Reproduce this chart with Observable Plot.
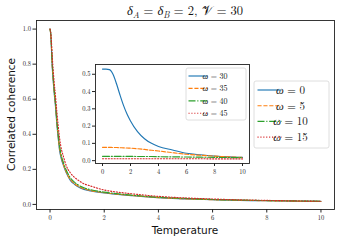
<!DOCTYPE html>
<html><head><meta charset="utf-8">
<script src="https://cdn.jsdelivr.net/npm/d3@7"></script>
<script src="https://cdn.jsdelivr.net/npm/@observablehq/plot@0.6"></script>
<style>
body{margin:0;background:#fff;}
#chart{position:relative;width:340px;height:243px;}
</style></head><body><div id="chart"></div>
<script>
// ---- main panel data ----
const temperature = [0, 0.025, 0.05, 0.075, 0.1, 0.15, 0.2, 0.25, 0.3, 0.35, 0.4, 0.5, 0.6, 0.75, 0.9, 1.05, 1.25, 1.5, 2, 2.5, 3, 4, 5, 6, 7, 8, 9, 10];
const omega0  = [1.0, 0.97, 0.9, 0.8, 0.74, 0.64, 0.56, 0.46, 0.38, 0.31, 0.27, 0.22, 0.18, 0.137, 0.115, 0.099, 0.086, 0.077, 0.065, 0.057, 0.050, 0.038, 0.032, 0.027, 0.023, 0.021, 0.019, 0.017];
const omega5  = [1.0, 0.97, 0.905, 0.81, 0.75, 0.65, 0.57, 0.47, 0.39, 0.32, 0.28, 0.225, 0.185, 0.142, 0.119, 0.103, 0.089, 0.079, 0.067, 0.058, 0.051, 0.039, 0.032, 0.027, 0.024, 0.021, 0.019, 0.017];
const omega10 = [1.0, 0.975, 0.91, 0.82, 0.76, 0.66, 0.58, 0.48, 0.40, 0.335, 0.29, 0.235, 0.195, 0.152, 0.127, 0.11, 0.095, 0.084, 0.07, 0.061, 0.053, 0.041, 0.034, 0.028, 0.025, 0.022, 0.02, 0.018];
const omega15 = [1.0, 0.98, 0.93, 0.86, 0.8, 0.7, 0.62, 0.53, 0.45, 0.38, 0.33, 0.27, 0.22, 0.18, 0.155, 0.137, 0.118, 0.105, 0.082, 0.07, 0.061, 0.046, 0.037, 0.031, 0.026, 0.023, 0.02, 0.018];
const mainOmegas = ["0", "5", "10", "15"];

// ---- inset data ----
const insetTemperature = [0, 0.25, 0.5, 0.75, 1, 1.25, 1.5, 1.75, 2, 2.5, 3, 3.5, 4, 5, 6, 7, 8, 9, 10];
const omega30 = [0.53, 0.53, 0.527, 0.5, 0.445, 0.38, 0.32, 0.27, 0.23, 0.168, 0.127, 0.1, 0.082, 0.062, 0.043, 0.034, 0.027, 0.022, 0.019];
const omega35 = [0.077, 0.077, 0.077, 0.076, 0.076, 0.075, 0.074, 0.073, 0.072, 0.069, 0.065, 0.06, 0.056, 0.046, 0.037, 0.031, 0.026, 0.022, 0.019];
const omega40 = [0.025, 0.025, 0.025, 0.025, 0.025, 0.025, 0.025, 0.025, 0.025, 0.024, 0.024, 0.024, 0.023, 0.022, 0.021, 0.02, 0.019, 0.018, 0.017];
const omega45 = [0.011, 0.011, 0.011, 0.011, 0.011, 0.011, 0.011, 0.011, 0.011, 0.011, 0.011, 0.011, 0.011, 0.011, 0.011, 0.011, 0.010, 0.010, 0.010];
const insetOmegas = ["30", "35", "40", "45"];

// ---- ticks / labels ----
const xTicks = [0, 2, 4, 6, 8, 10];
const yTicksMain = [0, 0.2, 0.4, 0.6, 0.8, 1.0];
const yTicksInset = [0, 0.1, 0.2, 0.3, 0.4, 0.5];
const xLabel = "Temperature";
const yLabel = "Correlated coherence";

// ---- styles ----
const colors = ["#1f77b4", "#ff7f0e", "#2ca02c", "#d62728"];
const dashes = [null, "4.1,1.8", "7,1.8,1.1,1.8", "1.1,1.8"];
const serif = "'Latin Modern Roman','Liberation Serif','DejaVu Serif',serif";
const tickFont = 6.5;

function toRows(ts, series) {
  return series.map((vals, i) => ts.map((t, j) => ({T: t, v: vals[j], s: i})));
}
const mainRows = toRows(temperature, [omega0, omega5, omega10, omega15]);
const insetRows = toRows(insetTemperature, [omega30, omega35, omega40, omega45]);

function lineMarks(rows) {
  return rows.map((r, i) => Plot.line(r, {x: "T", y: "v", stroke: colors[i], strokeWidth: 1.15,
    strokeDasharray: dashes[i] || undefined, curve: "monotone-x"}));
}

const main = Plot.plot({
  width: 340, height: 243,
  marginLeft: 36, marginRight: 6, marginTop: 20, marginBottom: 34,
  style: {fontFamily: serif, fontSize: tickFont + "px", background: "transparent", color: "#222"},
  x: {domain: [-0.5, 10.5]},
  y: {domain: [-0.029, 1.049]},
  marks: [
    ...lineMarks(mainRows),
    Plot.frame({stroke: "#222", strokeWidth: 0.9}),
    Plot.axisX({ticks: xTicks, tickFormat: d => d.toFixed(0), tickSize: 3.5, tickPadding: 2.5, label: null, fontSize: tickFont}),
    Plot.axisY({ticks: yTicksMain, tickFormat: d => d.toFixed(1), tickSize: 3.5, tickPadding: 2, label: null, fontSize: tickFont})
  ]
});

const inset = Plot.plot({
  width: 178, height: 115,
  marginLeft: 22, marginRight: 2, marginTop: 2, marginBottom: 14,
  style: {fontFamily: serif, fontSize: tickFont + "px", background: "transparent", color: "#222", overflow: "visible"},
  x: {domain: [-0.5, 10.5]},
  y: {domain: [-0.0165, 0.5565]},
  marks: [
    Plot.frame({fill: "white"}),
    ...lineMarks(insetRows),
    Plot.frame({stroke: "#222", strokeWidth: 0.9}),
    Plot.axisX({ticks: xTicks, tickFormat: d => d.toFixed(0), tickSize: 3, tickPadding: 2.5, label: null, fontSize: tickFont}),
    Plot.axisY({ticks: yTicksInset, tickFormat: d => d.toFixed(1), tickSize: 3, tickPadding: 2, label: null, fontSize: tickFont})
  ]
});

document.getElementById("chart").appendChild(main);
const svg = d3.select(main);
inset.style.height = "115px";
inset.style.width = "178px";
inset.style.maxWidth = "none";
d3.select(inset).attr("x", 73).attr("y", 62).attr("width", 178).attr("height", 115);
main.appendChild(inset);

// title
const title = svg.append("text").attr("x", 185).attr("y", 15).attr("text-anchor", "middle")
  .attr("font-family", serif).attr("font-size", 12.5).attr("fill", "#111");
title.append("tspan").attr("font-style", "italic").text("δ");
title.append("tspan").attr("font-style", "italic").attr("font-size", 9).attr("dy", 2.5).text("A");
title.append("tspan").attr("dy", -2.5).text(" = ");
title.append("tspan").attr("font-style", "italic").text("δ");
title.append("tspan").attr("font-style", "italic").attr("font-size", 9).attr("dy", 2.5).text("B");
title.append("tspan").attr("dy", -2.5).text(" = 2, ");
title.append("tspan").text("𝒱");
title.append("tspan").text(" = 30");

// axis labels
svg.append("text").attr("x", 185).attr("y", 234).attr("text-anchor", "middle")
  .attr("font-family", "'DejaVu Sans',sans-serif").attr("font-size", 10.5).attr("fill", "#111").text(xLabel);
svg.append("text").attr("transform", "translate(15,114.5) rotate(-90)").attr("text-anchor", "middle")
  .attr("font-family", "'DejaVu Sans',sans-serif").attr("font-size", 10.5).attr("fill", "#111").text(yLabel);

// legends
function legend(x, y, w, h, rowY0, rowStep, lineX0, lineX1, textX, fontSize, omegas) {
  svg.append("rect").attr("x", x).attr("y", y).attr("width", w).attr("height", h).attr("rx", 2)
    .attr("fill", "white").attr("fill-opacity", 0.85).attr("stroke", "#d6d6d6").attr("stroke-width", 0.8);
  omegas.forEach((o, i) => {
    const ry = rowY0 + i * rowStep;
    svg.append("line").attr("x1", lineX0).attr("x2", lineX1).attr("y1", ry).attr("y2", ry)
      .attr("stroke", colors[i]).attr("stroke-width", 1.15).attr("stroke-dasharray", dashes[i]);
    const t = svg.append("text").attr("x", textX).attr("y", ry).attr("dy", "0.35em")
      .attr("font-family", serif).attr("font-size", fontSize).attr("fill", "#111");
    t.append("tspan").attr("font-style", "italic").text("ω");
    t.append("tspan").text(" = " + o);
  });
}
legend(254, 81, 75, 67, 90, 15.7, 257.5, 281.5, 290.5, 11, mainOmegas);
legend(186, 68, 60, 52, 76, 12.4, 188.5, 207.5, 215, 8, insetOmegas);
</script></body></html>
